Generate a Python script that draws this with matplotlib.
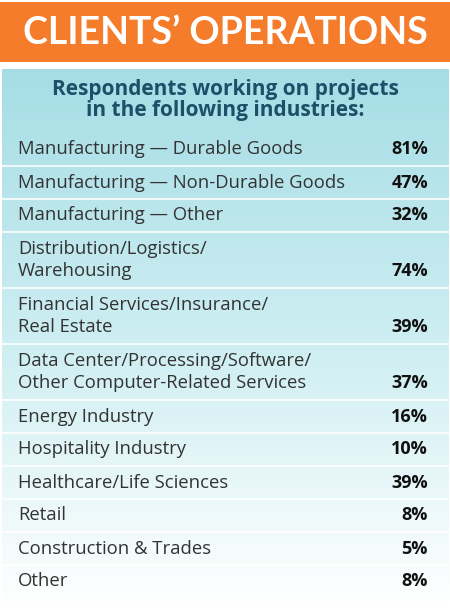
import numpy as np
import matplotlib
matplotlib.use("Agg")
import matplotlib.pyplot as plt
from matplotlib.colors import LinearSegmentedColormap

# data
title = "CLIENTS\u2019 OPERATIONS"
subtitle = "Respondents working on projects\nin the following industries:"
industries = [
    "Manufacturing \u2014 Durable Goods",
    "Manufacturing \u2014 Non-Durable Goods",
    "Manufacturing \u2014 Other",
    "Distribution/Logistics/\nWarehousing",
    "Financial Services/Insurance/\nReal Estate",
    "Data Center/Processing/Software/\nOther Computer-Related Services",
    "Energy Industry",
    "Hospitality Industry",
    "Healthcare/Life Sciences",
    "Retail",
    "Construction & Trades",
    "Other",
]
percents = [81, 47, 32, 74, 39, 37, 16, 10, 39, 8, 5, 8]

W, H = 450, 609
TITLE_FONT = "Lato"
FONT = "Open Sans"
orange = "#f47c2a"
teal = "#1b5069"
label_col = "#333333"

fig = plt.figure(figsize=(W / 100, H / 100), dpi=100)
ax = fig.add_axes([0, 0, 1, 1])
ax.set_xlim(0, W)
ax.set_ylim(H, 0)
ax.axis("off")

# header bar
ax.add_patch(plt.Rectangle((0, 2), W, 60, color=orange, lw=0))
ax.text(W / 2, 33, title, color="white", fontsize=27, fontweight="bold",
        family=TITLE_FONT, ha="center", va="center")

# gradient panel
cmap = LinearSegmentedColormap.from_list("panel", ["#a6dde5", "#cdeef2", "#ffffff"])
grad = np.linspace(0, 1, 256).reshape(-1, 1)
ax.imshow(grad, cmap=cmap, extent=(2, W - 1, H, 69), aspect="auto", zorder=0)

ax.text(W / 2, 100, subtitle, color=teal, fontsize=15, fontweight="bold",
        family=FONT, ha="center", va="center", linespacing=1.05)

# rows
single_h, double_h = 33, 56
y = 133
for name, pct in zip(industries, percents):
    n_lines = name.count("\n") + 1
    h = single_h if n_lines == 1 else double_h
    mid = y + h / 2
    if n_lines == 1:
        ax.text(18, mid, name, color=label_col, fontsize=13.3, family=FONT,
                ha="left", va="center")
        pct_y = mid
    else:
        lines = name.split("\n")
        ax.text(18, mid - 11, lines[0], color=label_col, fontsize=13.3,
                family=FONT, ha="left", va="center")
        ax.text(18, mid + 11, lines[1], color=label_col, fontsize=13.3,
                family=FONT, ha="left", va="center")
        pct_y = mid + 11
    ax.text(428, pct_y, f"{pct}%", color="#111111", fontsize=13,
            fontweight="bold", family=FONT, ha="right", va="center")
    y += h
    if name != industries[-1]:
        ax.plot([2, W - 1], [y, y], color="white", lw=1.5, alpha=0.8)

fig.savefig("out.png", dpi=100)
